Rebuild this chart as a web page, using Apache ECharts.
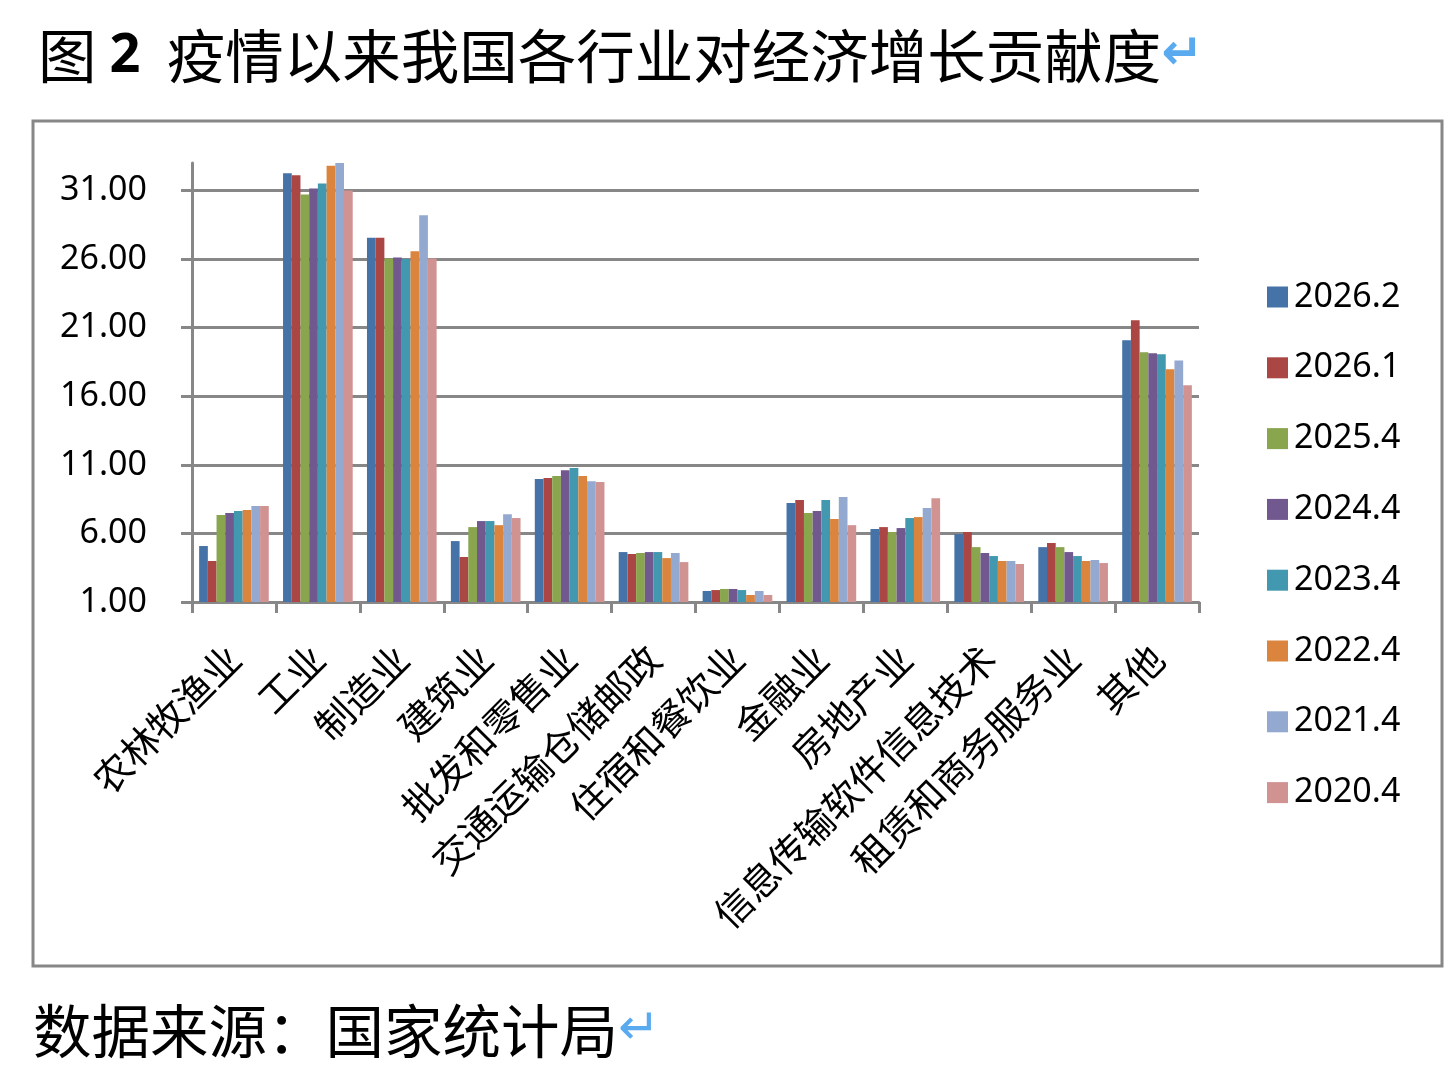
<!DOCTYPE html>
<html>
<head>
<meta charset="utf-8">
<script src="https://cdn.jsdelivr.net/npm/echarts@6/dist/echarts.min.js"></script>
<style>
  html, body { margin: 0; padding: 0; background: #fff; }
  #chart { width: 1448px; height: 1086px; }
</style>
</head>
<body>
<div id="chart"></div>
<script>
const categories = ['农林牧渔业', '工业', '制造业', '建筑业', '批发和零售业', '交通运输仓储邮政',
  '住宿和餐饮业', '金融业', '房地产业', '信息传输软件信息技术', '租赁和商务服务业', '其他'];
const seriesNames = ['2026.2', '2026.1', '2025.4', '2024.4', '2023.4', '2022.4', '2021.4', '2020.4'];
const colors = ['#4572a7', '#aa4643', '#89a54e', '#71588f', '#4198af', '#db843d', '#93a9cf', '#d19392'];

const v2026_2 = [5.08, 32.25, 27.56, 5.44, 9.96, 4.64, 1.80, 8.21, 6.32, 5.95, 5.00, 20.08];
const v2026_1 = [3.99, 32.10, 27.56, 4.28, 10.03, 4.50, 1.87, 8.43, 6.46, 6.10, 5.30, 21.54];
const v2025_4 = [7.34, 30.70, 26.03, 6.46, 10.18, 4.57, 1.95, 7.48, 6.10, 5.00, 5.00, 19.20];
const v2024_4 = [7.48, 31.15, 26.12, 6.90, 10.60, 4.64, 1.95, 7.63, 6.39, 4.57, 4.64, 19.13];
const v2023_4 = [7.63, 31.50, 26.00, 6.90, 10.76, 4.64, 1.87, 8.43, 7.12, 4.35, 4.35, 19.06];
const v2022_4 = [7.70, 32.80, 26.56, 6.60, 10.18, 4.20, 1.51, 7.05, 7.19, 3.99, 3.99, 17.97];
const v2021_4 = [7.99, 33.05, 29.19, 7.40, 9.81, 4.57, 1.80, 8.65, 7.85, 3.99, 4.06, 18.60];
const v2020_4 = [7.99, 31.00, 26.03, 7.12, 9.74, 3.91, 1.51, 6.60, 8.57, 3.77, 3.84, 16.80];
const values = [v2026_2, v2026_1, v2025_4, v2024_4, v2023_4, v2022_4, v2021_4, v2020_4];

const yTicks = [1, 6, 11, 16, 21, 26, 31];
const yMin = 1, yMax = 33, yStep = 5;

const gray = '#878787';
const chart = echarts.init(document.getElementById('chart'));

const series = seriesNames.map((name, i) => ({
  name: name,
  type: 'bar',
  data: values[i],
  barGap: '0%',
  barCategoryGap: '17%',
  itemStyle: { color: colors[i] }
}));

const option = {
  backgroundColor: '#fff',
  animation: false,
  color: colors,
  title: {
    text: '{t|图 }{n|2}{t|  疫情以来我国各行业对经济增长贡献度}{r|↵}',
    left: 33,
    top: 22,
    textStyle: {
      rich: {
        t: { fontFamily: 'Noto Sans CJK SC', fontSize: 58.5, color: '#000', fontWeight: 'normal' },
        n: { fontFamily: 'Noto Sans', fontSize: 54, color: '#000', fontWeight: 'bold' },
        r: { fontFamily: 'DejaVu Sans', fontSize: 50, color: '#5aaaf0' }
      }
    }
  },
  graphic: [
    {
      type: 'rect',
      shape: { x: 33, y: 121, width: 1409, height: 845 },
      style: { fill: 'none', stroke: gray, lineWidth: 3 },
      z: -1
    },
    {
      type: 'text',
      left: 33,
      top: 1002,
      style: {
        text: '{t|数据来源：国家统计局}{r|↵}',
        rich: {
          t: { fontFamily: 'Noto Sans CJK SC', fontSize: 58.5, fill: '#000' },
          r: { fontFamily: 'DejaVu Sans', fontSize: 50, fill: '#5aaaf0' }
        }
      }
    }
  ],
  legend: {
    orient: 'vertical',
    left: 1262,
    top: 275,
    itemWidth: 21,
    itemHeight: 21,
    itemGap: 36.8,
    icon: 'rect',
    data: seriesNames,
    textStyle: { fontFamily: 'Noto Sans', fontSize: 34, color: '#000', lineHeight: 32, padding: [0, 0, 0, 1] }
  },
  grid: { left: 192, right: 249, top: 163, bottom: 484, containLabel: false },
  xAxis: {
    type: 'category',
    data: categories,
    axisLine: { lineStyle: { color: gray, width: 3 } },
    axisTick: { show: true, length: 11, lineStyle: { color: gray, width: 3 } },
    axisLabel: {
      rotate: 45,
      interval: 0,
      margin: 50,
      fontFamily: 'Noto Sans CJK SC',
      fontSize: 38,
      color: '#000'
    }
  },
  yAxis: {
    type: 'value',
    min: yMin,
    max: yMax,
    interval: yStep,
    axisLine: { show: true, lineStyle: { color: gray, width: 3 } },
    axisTick: { show: true, length: 11, lineStyle: { color: gray, width: 3 }, customValues: yTicks },
    axisLabel: {
      margin: 45,
      fontFamily: 'Noto Sans',
      fontSize: 34,
      color: '#000',
      customValues: yTicks,
      formatter: v => v.toFixed(2)
    },
    splitLine: {
      show: true,
      lineStyle: { color: [gray, gray, gray, gray, gray, gray, gray, 'rgba(0,0,0,0)'], width: 3 }
    }
  },
  series: series
};

chart.setOption(option);
</script>
</body>
</html>
